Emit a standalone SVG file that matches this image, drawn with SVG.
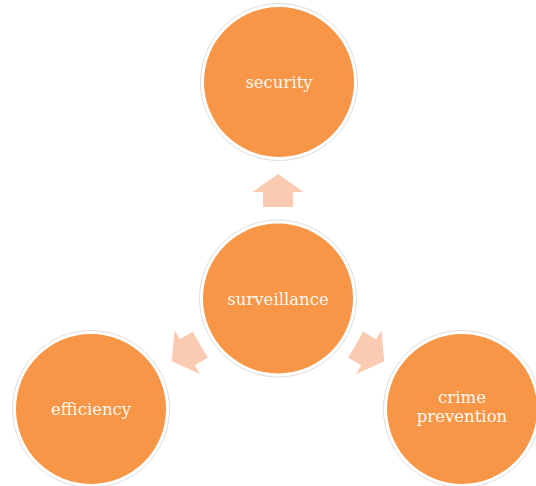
<svg xmlns="http://www.w3.org/2000/svg" width="536" height="486" viewBox="0 0 536 486">
  <style>
    .halo { fill: #ffffff; stroke: #dedede; stroke-width: 1; }
    .disc { fill: #F79646; }
    .label { font-family: "DejaVu Serif", "Liberation Serif", serif; font-size: 16.5px; fill: #FFF6EE; text-anchor: middle; }
    .arrow { fill: #FBCBB1; }
  </style>
  <defs>
    <!-- block arrow pointing up, centred on the origin -->
    <path id="blockArrow" d="M0,-16.5 L25.5,1.5 L15,1.5 L15,16.5 L-15,16.5 L-15,1.5 L-25.5,1.5 Z"/>
  </defs>
  <rect width="536" height="486" fill="#ffffff"/>

  <g id="connectors">
    <use href="#blockArrow" class="arrow" transform="translate(278,190.5)"/>
    <use href="#blockArrow" class="arrow" transform="translate(186,353) rotate(-120)"/>
    <use href="#blockArrow" class="arrow" transform="translate(370,353) rotate(120)"/>
  </g>

  <g id="security">
    <circle class="halo" cx="279" cy="82" r="78.5"/>
    <circle class="disc" cx="279" cy="82" r="75"/>
    <text class="label" x="279" y="88">security</text>
  </g>

  <g id="surveillance">
    <circle class="halo" cx="278" cy="298.5" r="78.5"/>
    <circle class="disc" cx="278" cy="298.5" r="75"/>
    <text class="label" x="278" y="305">surveillance</text>
  </g>

  <g id="efficiency">
    <circle class="halo" cx="91" cy="409" r="78.5"/>
    <circle class="disc" cx="91" cy="409" r="75"/>
    <text class="label" x="91" y="415">efficiency</text>
  </g>

  <g id="crime-prevention">
    <circle class="halo" cx="462" cy="409" r="78.5"/>
    <circle class="disc" cx="462" cy="409" r="75"/>
    <text class="label" x="462" y="403">crime</text>
    <text class="label" x="462" y="422">prevention</text>
  </g>
</svg>
